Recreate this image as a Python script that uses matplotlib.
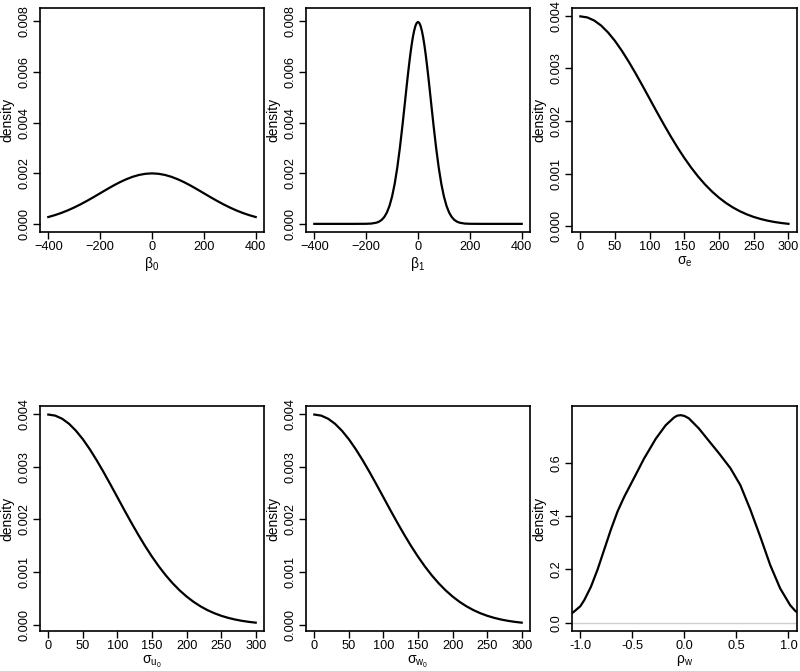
import numpy as np
import matplotlib
matplotlib.use("Agg")
import matplotlib.pyplot as plt

plt.rcParams['font.family'] = ['Liberation Sans', 'DejaVu Sans']
plt.rcParams['mathtext.fontset'] = 'dejavusans'
plt.rcParams['mathtext.default'] = 'regular'
plt.rcParams['font.size'] = 9.2

#%% data
# beta_0 prior
b0_x = [-400, -375, -350, -325, -300, -275, -250, -225, -200, -175, -150, -125, -100, -75, -50, -25, 0,
        25, 50, 75, 100, 125, 150, 175, 200, 225, 250, 275, 300, 325, 350, 375, 400]
b0_y = [0.000270, 0.000344, 0.000431, 0.000533, 0.000648, 0.000775, 0.000913, 0.001059, 0.001210,
        0.001360, 0.001506, 0.001641, 0.001760, 0.001859, 0.001933, 0.001979, 0.001995,
        0.001979, 0.001933, 0.001859, 0.001760, 0.001641, 0.001506, 0.001360, 0.001210,
        0.001059, 0.000913, 0.000775, 0.000648, 0.000533, 0.000431, 0.000344, 0.000270]

# beta_1 prior
b1_x = [-400, -350, -300, -250, -200, -180, -160, -150, -140, -130, -120, -110, -100,
        -90, -80, -70, -60, -50, -45, -40, -35, -30, -25, -20, -15, -10, -5, 0,
        5, 10, 15, 20, 25, 30, 35, 40, 45, 50, 60, 70, 80, 90, 100,
        110, 120, 130, 140, 150, 160, 180, 200, 250, 300, 350, 400]
b1_y = [0.0, 0.0, 0.0, 0.0, 0.0000027, 0.0000122, 0.0000477, 0.0000887, 0.000158, 0.000272, 0.000448,
        0.000709, 0.001080, 0.001579, 0.002218, 0.002995, 0.003884, 0.004839, 0.005322, 0.005794,
        0.006245, 0.006665, 0.007042, 0.007366, 0.007628, 0.007821, 0.007939, 0.007979,
        0.007939, 0.007821, 0.007628, 0.007366, 0.007042, 0.006665, 0.006245, 0.005794, 0.005322,
        0.004839, 0.003884, 0.002995, 0.002218, 0.001579, 0.001080,
        0.000709, 0.000448, 0.000272, 0.000158, 0.0000887, 0.0000477, 0.0000122, 0.0000027,
        0.0, 0.0, 0.0, 0.0]

# sigma priors (sigma_e, sigma_u0, sigma_w0 look the same)
sd_x = [0, 10, 20, 30, 40, 50, 60, 70, 80, 90, 100, 110, 120, 130, 140, 150,
        160, 170, 180, 190, 200, 210, 220, 230, 240, 250, 260, 270, 280, 290, 300]
sd_y = [0.003989, 0.003969, 0.003910, 0.003814, 0.003682, 0.003521, 0.003332, 0.003122,
        0.002897, 0.002661, 0.002420, 0.002178, 0.001942, 0.001714, 0.001497, 0.001295,
        0.001109, 0.000940, 0.000789, 0.000656, 0.000540, 0.000440, 0.000355, 0.000283,
        0.000224, 0.000175, 0.000136, 0.000104, 0.0000791, 0.0000595, 0.0000443]

# rho_w posterior density
rho_x = [-1.08, -1.063, -1.0, -0.962, -0.898, -0.834, -0.770, -0.706, -0.642, -0.579, -0.515,
         -0.451, -0.388, -0.330, -0.276, -0.180, -0.100, -0.070, -0.036, 0.0, 0.043, 0.139, 0.234,
         0.330, 0.442, 0.538, 0.633, 0.729, 0.825, 0.920, 1.016, 1.064, 1.08]
rho_y = [0.036, 0.041, 0.062, 0.085, 0.135, 0.200, 0.275, 0.350, 0.418, 0.472, 0.520,
         0.568, 0.616, 0.654, 0.690, 0.741, 0.770, 0.777, 0.779, 0.776, 0.767, 0.729, 0.683,
         0.637, 0.580, 0.516, 0.425, 0.323, 0.216, 0.129, 0.066, 0.045, 0.040]

#%% figure
fig = plt.figure(figsize=(8, 6.71), dpi=100)
cols = [(0.050, 0.280), (0.3825, 0.280), (0.715, 0.281)]
rows = [(0.654, 0.334), (0.0596, 0.335)]

panels = [
    (b0_x, b0_y, r'$\beta_0$', (-432, 432), (-0.000328, 0.008528), [-400, -200, 0, 200, 400],
     [0, 0.002, 0.004, 0.006, 0.008], '%.3f'),
    (b1_x, b1_y, r'$\beta_1$', (-432, 432), (-0.000328, 0.008528), [-400, -200, 0, 200, 400],
     [0, 0.002, 0.004, 0.006, 0.008], '%.3f'),
    (sd_x, sd_y, r'$\sigma_e$', (-12, 312), (-0.000114, 0.004147), [0, 50, 100, 150, 200, 250, 300],
     [0, 0.001, 0.002, 0.003, 0.004], '%.3f'),
    (sd_x, sd_y, r'$\sigma_{u_0}$', (-12, 312), (-0.000114, 0.004147), [0, 50, 100, 150, 200, 250, 300],
     [0, 0.001, 0.002, 0.003, 0.004], '%.3f'),
    (sd_x, sd_y, r'$\sigma_{w_0}$', (-12, 312), (-0.000114, 0.004147), [0, 50, 100, 150, 200, 250, 300],
     [0, 0.001, 0.002, 0.003, 0.004], '%.3f'),
    (rho_x, rho_y, r'$\rho_w$', (-1.08, 1.08), (-0.031, 0.8125), [-1.0, -0.5, 0.0, 0.5, 1.0],
     [0.0, 0.2, 0.4, 0.6], '%.1f'),
]

for i, (x, y, lab, xl, yl, xt, yt, fmt) in enumerate(panels):
    r, c = divmod(i, 3)
    ax = fig.add_axes([cols[c][0], rows[r][0], cols[c][1], rows[r][1]])
    if i == 5:
        ax.axhline(0, color='#d0d0d0', lw=1.0)
    ax.plot(x, y, color='black', lw=1.6)
    ax.set_xlim(xl)
    ax.set_ylim(yl)
    ax.set_xticks(xt)
    if i == 5:
        ax.set_xticklabels(['%.1f' % v for v in xt])
    ax.set_yticks(yt)
    ax.set_yticklabels([fmt % v for v in yt], rotation=90, va='center')
    ax.tick_params(direction='out', length=5, width=1.0, pad=1.5)
    for s in ax.spines.values():
        s.set_linewidth(1.2)
    ax.set_xlabel(lab, fontsize=10, labelpad=1)
    ax.set_ylabel('density', fontsize=10, labelpad=3)

fig.savefig('out.png', dpi=100)
